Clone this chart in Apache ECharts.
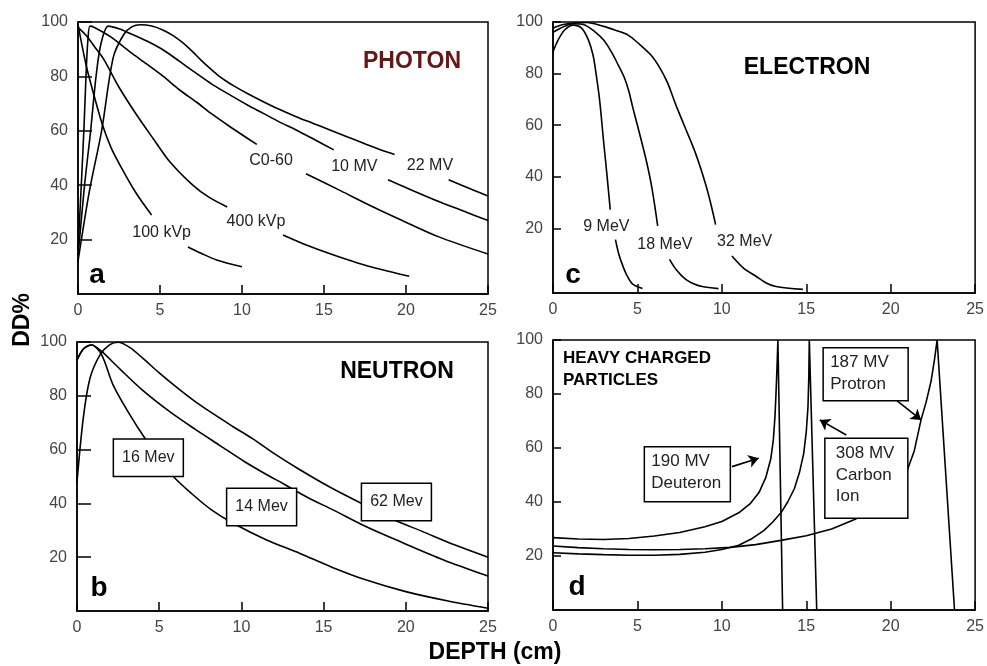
<!DOCTYPE html>
<html><head><meta charset="utf-8">
<script src="https://cdn.jsdelivr.net/npm/echarts@6/dist/echarts.min.js"></script>
<style>html,body{margin:0;padding:0;background:#fff}#c{width:987px;height:666px}</style>
</head><body><div id="c"></div>
<script>
// ---------- axis ticks ----------
const xTicks = [0, 5, 10, 15, 20, 25];
const yTicks = [20, 40, 60, 80, 100];

// ---------- panel a: photon (depth cm, DD%) ----------
const photon100kVp = [[0,99],[0.5,84],[1,72.5],[1.5,62],[2,54],[2.56,47.4],[3.5,37.5],[4.49,29],[5.6,'-'],[6.7,17.3],[7.5,15],[8.45,12.5],[10,10]];
const photon400kVp = [[0,98],[0.5,95],[1,91],[1.54,86.6],[2.5,76],[3.58,65.8],[4.6,57],[5.6,48.6],[7,40],[8,35.5],[9.1,32],[10.8,'-'],[12.5,21.7],[14,17.8],[15.5,14.5],[17,11.5],[18.5,9],[20.2,6.5]];
const photonCo60 = [[0,16],[0.2,40],[0.37,62],[0.5,82],[0.6,93],[0.73,98.5],[1,98],[2,94.5],[3.17,89],[4.2,84.5],[5.2,80],[6.2,75],[7.24,70.5],[8.2,66],[9.27,61.5],[10.9,55],[12.4,'-'],[13.9,44.2],[16,38],[18,32],[19.6,27.5],[22,21],[25,14.7]];
const photon10MV = [[0,14],[0.4,40],[0.77,60],[1.1,80],[1.4,92],[1.85,98.5],[2.5,97.5],[3.17,95.8],[4.2,93],[5.2,89.7],[6.2,85.5],[7.24,81],[8.2,77],[9.27,73.2],[10.3,69.6],[11.3,66.4],[12.3,63.2],[13.3,60.3],[14.5,56.5],[15.6,53],[17.2,'-'],[18.9,42],[20.5,37.8],[22,34],[23.5,30.5],[25,27]];
const photon22MV = [[0,12],[0.7,38],[1.44,60],[2.15,87],[2.8,95.5],[3.3,98.3],[3.8,99],[4.5,98.5],[5.2,97],[5.8,95],[6.4,92.3],[7,89],[7.5,86],[8,83.2],[8.5,80.6],[9,78.4],[9.5,76.5],[10.3,73.8],[11.3,70.7],[12.3,67.8],[13.3,65.2],[14.35,62.7],[15.4,60.2],[16.4,57.8],[17.6,55],[18.8,52.3],[19.3,51.3],[21,'-'],[22.6,42],[23.8,39],[25,36]];
const photonLabels = [['100 kVp',5.1,22.7],['400 kVp',10.85,26.8],['C0-60',11.77,49],['10 MV',16.85,46.8],['22 MV',21.46,47.2]];

// ---------- panel c: electron ----------
const electron9MeV = [[0,88.5],[0.3,93],[0.7,97],[1.2,98.8],[1.69,97.6],[2.1,93],[2.37,87.2],[2.55,80],[2.76,69.8],[3.0,53.5],[3.2,40.5],[3.39,27.3],[3.55,'-'],[3.7,15.7],[3.9,10],[4.14,5.4],[4.4,1.5],[4.72,-1.6],[5.3,-3.3]];
const electron18MeV = [[0,96],[0.5,97.8],[1.2,99.3],[1.8,99],[2.47,96.3],[3,93],[3.45,88.5],[3.85,83.5],[4.24,78.2],[4.5,73],[4.72,67],[5.0,60],[5.5,47],[5.85,36],[6.2,21],[6.55,'-'],[6.9,8],[7.3,4],[7.86,0.3],[8.4,-1.6],[8.84,-2.5],[9.8,-3.3]];
const electron32MeV = [[0,97.6],[0.6,99],[1.2,99.6],[2,99.8],[3,98.3],[3.7,96.8],[4.43,95],[5.1,91.5],[5.8,87.2],[6.3,82.5],[6.78,76.5],[7.27,68],[7.8,59.5],[8.45,49],[9,38],[9.35,29.5],[9.63,21.5],[10.1,'-'],[10.6,9.3],[11.3,4.5],[12,1.6],[12.6,-1],[13.2,-2.5],[14.8,-3.6]];
const electronLabels = [['9 MeV',3.16,20.9],['18 MeV',6.63,13.8],['32 MeV',11.35,14.9]];

// ---------- panel b: neutron ----------
const neutron16MeV = [[0,93.3],[0.4,97.5],[0.89,98.9],[1.5,95.2],[2.2,84],[3.22,72.9],[4.1,64.5],[5,57],[5.86,50],[7,43.5],[8.2,37.5],[9.5,32.6],[11.5,26.5],[13.56,21.4],[15.5,16.3],[17.6,11.5],[20,7.2],[22.5,3.8],[25,1]];
const neutron14MeV = [[0,93.3],[0.4,97.5],[0.89,98.9],[1.5,96.5],[2.6,90],[4,82],[5.66,74],[7.2,67.5],[8.7,61.5],[10.2,55.5],[11.74,50],[12.5,47.5],[14,42.3],[15.6,37.5],[17.6,31.3],[19.65,25.8],[22.3,19],[25,13]];
const neutron62MeV = [[0,48],[0.38,71.6],[0.79,86.5],[1.4,95.2],[2,99],[2.5,99.9],[3.2,98],[4,94],[5,88.5],[6.2,82.5],[7.5,76.5],[9.5,68.5],[10.7,64],[12,58.5],[13.56,52.5],[15.4,46],[17.3,40],[19.24,34],[21,29.6],[23,24.5],[25,20]];
const neutronLabels = [['16 Mev',2.21,63.9],['14 Mev',9.1,45.6],['62 Mev',17.3,47.5]]; // box top-left

// ---------- panel d: heavy charged particles ----------
const deuteron190MV = [[0,26.8],[1.5,26.3],[3,26.1],[4.5,26.5],[6,27.4],[7.5,28.7],[9,30.8],[10,32.8],[11,36],[11.7,39.5],[12.2,43.5],[12.6,49],[12.9,56],[13.05,63],[13.15,72],[13.22,82],[13.28,92],[13.32,100],[13.6,0]];
const carbon308MV = [[0,21.2],[1.5,20.8],[3,20.5],[4.5,20.3],[6,20.3],[7.5,20.6],[9,21.4],[10,22.4],[11,24],[11.8,26.5],[12.5,29.5],[13,32.5],[13.5,36],[13.9,40],[14.3,45],[14.6,51],[14.85,58],[15.0,66],[15.1,75],[15.15,86],[15.18,100],[15.62,0]];
const proton187MV = [[0,23.7],[1.5,23.1],[3,22.7],[4.5,22.4],[6,22.3],[7.5,22.4],[9,22.7],[10.5,23.2],[12,24.2],[13.5,25.8],[15,27.5],[16.5,30],[17.9,33.6],[19,37.5],[20,43],[20.6,47.5],[21,52],[21.4,59],[21.8,70.5],[22.1,77],[22.4,85],[22.6,93],[22.75,100],[23.78,0]];
const heavyLabels = [['190 MV\nDeuteron',5.41,60.5],['308 MV\nCarbon\nIon',16.1,63.6],['187 MV\nProtron',16,97.1]]; // box top-left
const heavyArrows = [[[10.6,53.1],[12.18,56.2]],[[17.37,64.8],[15.8,70.4]],[[20.2,78.4],[21.8,70.4]]];

// ---------- chart ----------
const FONT = '"Liberation Sans", Arial, sans-serif';
const grids = [
  {left:78, top:22, width:410, height:272},   // a
  {left:553, top:22, width:425, height:271},  // c
  {left:77, top:342, width:411, height:269},  // b
  {left:553, top:340, width:425, height:270}  // d
].map(g => Object.assign({show:true, borderColor:'#000', borderWidth:1.5, backgroundColor:'#fff'}, g));

const yTickLen = [14, 8, 14, 8];
const xAxes = grids.map((g,i) => ({
  type:'value', gridIndex:i, min:0, max:25, interval:5,
  axisLine:{show:true, onZero:false, lineStyle:{color:'#000', width:1.5}},
  axisTick:{show:true, inside:true, length:9, lineStyle:{color:'#000', width:1.5}},
  axisLabel:{color:'#444', fontSize:16, fontFamily:FONT, margin:9},
  splitLine:{show:false}
}));
const yAxes = grids.map((g,i) => ({
  type:'value', gridIndex:i, min: i===1 ? -5 : 0, max:100,
  axisLine:{show:true, onZero:false, lineStyle:{color:'#000', width:1.5}},
  axisTick:{show:true, inside:true, length:yTickLen[i], customValues:yTicks, lineStyle:{color:'#000', width:1.5}},
  axisLabel:{color:'#444', fontSize:16, fontFamily:FONT, margin:10, customValues:yTicks},
  splitLine:{show:false}
}));

function curve(data, gi, smooth) {
  return {type:'line', xAxisIndex:gi, yAxisIndex:gi, data:data, showSymbol:false, symbol:'none',
    smooth: smooth, connectNulls:false, silent:true,
    lineStyle:{color:'#000', width:1.6}};
}
const S = 0.3;
const series = [
  curve(photon100kVp,0,S), curve(photon400kVp,0,S), curve(photonCo60,0,S), curve(photon10MV,0,S), curve(photon22MV,0,S),
  curve(electron9MeV,1,S), curve(electron18MeV,1,S), curve(electron32MeV,1,S),
  curve(neutron16MeV,2,S), curve(neutron14MeV,2,S), curve(neutron62MeV,2,S),
  curve(deuteron190MV,3,false), curve(carbon308MV,3,false), curve(proton187MV,3,false),
  {type:'lines', coordinateSystem:'cartesian2d', xAxisIndex:3, yAxisIndex:3, silent:true,
   symbol:['none','arrow'], symbolSize:10,
   lineStyle:{color:'#000', width:1.6, opacity:1},
   data: heavyArrows.map(c => ({coords:c}))}
];

const chart = echarts.init(document.getElementById('c'), null, {renderer:'canvas'});
chart.setOption({animation:false, backgroundColor:'#fff', grid:grids, xAxis:xAxes, yAxis:yAxes, series:series});

// ---------- annotations ----------
const px = (gi, x, y) => chart.convertToPixel({gridIndex:gi}, [x, y]);
const g = [];
function txt(t, x, y, font, fill, align, valign, extra) {
  g.push({type:'text', z:100, silent:true, style:Object.assign({text:t, x:x, y:y, font:font, fill:fill, textAlign:align, textVerticalAlign:valign}, extra||{})});
}
// panel titles
txt('PHOTON', 412, 62, 'bold 23px '+FONT, '#6a1515', 'center', 'middle');
txt('ELECTRON', 807, 68, 'bold 23px '+FONT, '#000', 'center', 'middle');
txt('NEUTRON', 397, 372, 'bold 23px '+FONT, '#000', 'center', 'middle');
txt('HEAVY CHARGED\nPARTICLES', 563, 347, 'bold 17px '+FONT, '#000', 'left', 'top', {lineHeight:22});
// panel letters
txt('a', 97, 275, 'bold 28px '+FONT, '#000', 'center', 'middle');
txt('c', 573, 275, 'bold 28px '+FONT, '#000', 'center', 'middle');
txt('b', 99, 588, 'bold 28px '+FONT, '#000', 'center', 'middle');
txt('d', 577, 587, 'bold 28px '+FONT, '#000', 'center', 'middle');
// axis names
txt('DEPTH (cm)', 495, 653, 'bold 23px '+FONT, '#000', 'center', 'middle');
g.push({type:'text', z:100, silent:true, x:23, y:320, rotation:Math.PI/2,
  style:{text:'DD%', x:0, y:0, font:'bold 23px '+FONT, fill:'#000', textAlign:'center', textVerticalAlign:'middle'}});

// curve labels (panel a, c)
photonLabels.forEach(([t,x,y]) => { const p = px(0,x,y); txt(t, p[0], p[1], '16px '+FONT, '#222', 'center', 'middle'); });
electronLabels.forEach(([t,x,y]) => { const p = px(1,x,y); txt(t, p[0], p[1], '16px '+FONT, '#222', 'center', 'middle'); });
// boxed labels (panel b)
neutronLabels.forEach(([t,x,y]) => {
  const p = px(2,x,y); const w = 70, h = 37.5;
  g.push({type:'rect', z:90, silent:true, shape:{x:p[0], y:p[1], width:w, height:h}, style:{fill:'#fff', stroke:'#000', lineWidth:1.5}});
  txt(t, p[0]+w/2, p[1]+h/2, '16px '+FONT, '#222', 'center', 'middle');
});
// boxed labels (panel d)
const heavyBox = [[86,55,7],[83,80,11],[85,53,7]];
heavyLabels.forEach(([t,x,y], i) => {
  const p = px(3,x,y); const [w,h,pad] = heavyBox[i];
  g.push({type:'rect', z:90, silent:true, shape:{x:p[0], y:p[1], width:w, height:h}, style:{fill:'#fff', stroke:'#000', lineWidth:1.5}});
  txt(t, p[0]+pad, p[1]+4, '17px '+FONT, '#222', 'left', 'top', {lineHeight:21.7});
});
chart.setOption({graphic:g});
</script>
</body></html>
